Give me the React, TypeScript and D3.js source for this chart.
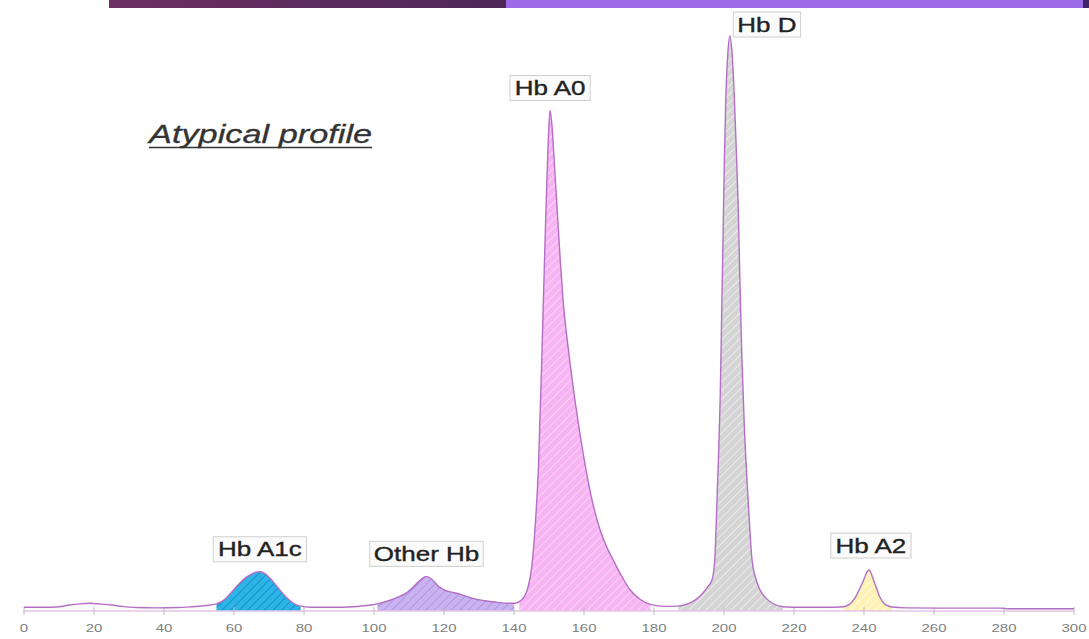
import React from "react";
import * as d3 from "d3";

// Chromatogram profile: [retention time, signal (% of tallest peak)]
const profile: [number, number][] = [
  [0, 0.3], [6, 0.3], [10, 0.4], [13, 0.7], [16, 0.9], [19, 1.0], [22, 0.85], [25, 0.7], [28, 0.45], [32, 0.25],
  [38, 0.2], [44, 0.25], [48, 0.4], [52, 0.6], [55, 0.9], [57, 1.5], [59, 2.7], [61, 4.1], [63, 5.3], [65, 6.1],
  [67.4, 6.5], [69, 6.1], [71, 4.9], [73, 3.4], [75, 2.0], [77, 1.0], [79, 0.5], [82, 0.3], [88, 0.3], [94, 0.4],
  [98, 0.6], [101, 0.9], [104, 1.4], [107, 2.1], [109.5, 2.9], [111.5, 4.0], [113.5, 5.2], [115, 5.7], [116.5, 5.2],
  [118.5, 3.9], [120.5, 3.2], [122.5, 2.9], [125, 2.5], [128, 1.9], [131, 1.5], [135, 1.2], [138, 1.0], [140, 1.0],
  [141.5, 1.3], [143, 2.2], [144, 3.8], [145, 7], [146, 14], [147, 25], [148, 45], [149, 67], [149.8, 82],
  [150.3, 87], [150.9, 84], [151.6, 77], [152.3, 70], [153.2, 61], [154, 54], [155.6, 45], [157.4, 36.5],
  [159.8, 27], [162.3, 19], [164.6, 13.8], [166.5, 10.8], [168.3, 8.6], [170.7, 5.8], [173.1, 3.4], [176, 1.7],
  [179, 0.8], [183, 0.45], [187, 0.5], [190.3, 1.05], [192.5, 1.9], [194, 2.8], [195.5, 4.0], [196.6, 5.1],
  [197.4, 9], [198, 19], [198.5, 28], [198.9, 36.5], [199.3, 50], [199.7, 64], [200.1, 78], [200.5, 88.8],
  [201.1, 97], [201.7, 100], [202.3, 97], [202.9, 90], [203.4, 82], [204, 71.4], [204.6, 56], [205.1, 44],
  [205.8, 32], [206.9, 19], [208, 8.6], [209, 5.5], [210.3, 3.3], [212, 1.9], [213.7, 1.05], [216.9, 0.4],
  [222, 0.3], [230, 0.3], [234, 0.4], [236, 0.9], [237.5, 2.0], [239.5, 4.5], [241.4, 6.8], [243, 4.6],
  [244.5, 2.1], [246, 0.8], [248, 0.35], [252, 0.2], [265, 0.15], [279, 0.15], [281, 0.05], [300, 0.05],
];

const peakNames = ["Hb A1c", "Other Hb", "Hb A0", "Hb D", "Hb A2"];
const peakStart = [55, 100, 141.5, 187, 234];
const peakEnd = [79, 140, 179, 217, 248];
const tickValues = [0, 20, 40, 60, 80, 100, 120, 140, 160, 180, 200, 220, 240, 260, 280, 300];
const chartTitle = "Atypical profile";

// styles
const peakFill = ["#2db4e6", "#c8b2f0", "#f6b4f2", "#d4d4d4", "#fff2b4"];
const peakHatch = ["#1590c8", "#b397e2", "#fbd3f8", "#ececec", "#fffbe0"];
const labelDx = [0, 0, 0, 37, 2];
const labelDy = [10, 10, 10, -1, 12];

const W = 1089;
const H = 639;
const SX = 1.3;
const FONT = "'Liberation Sans', Arial, sans-serif";

function measure(text: string, size: number, italic = false) {
  const c = document.createElement("canvas").getContext("2d");
  if (!c) return text.length * size * 0.55;
  c.font = `${italic ? "italic " : ""}${size}px ${FONT}`;
  return c.measureText(text).width;
}

export default function App() {
  const x = d3.scaleLinear().domain([0, 300]).range([24, 1074]);
  const y = d3.scaleLinear().domain([0, 100]).range([609, 36]);
  const axisY = y(0) + 2;

  const line = d3
    .line<[number, number]>()
    .x((d) => x(d[0]))
    .y((d) => y(d[1]))
    .curve(d3.curveMonotoneX);
  const area = d3
    .area<[number, number]>()
    .x((d) => x(d[0]))
    .y0(axisY)
    .y1((d) => y(d[1]))
    .curve(d3.curveMonotoneX);

  const peaks = peakNames.map((name, i) => {
    const pts = profile.filter((p) => p[0] >= peakStart[i] && p[0] <= peakEnd[i]);
    const apex = pts.reduce((a, b) => (b[1] > a[1] ? b : a), pts[0]);
    return { name, pts, apex, i };
  });

  const labelSize = 20;
  const titleW = measure(chartTitle, 26, true) * 1.32;

  return (
    <svg
      width={W}
      height={H}
      style={{ position: "absolute", left: 0, top: 0, background: "#fff" }}
      fontFamily={FONT}
    >
      <defs>
        <linearGradient id="barGrad" x1="0" x2="1" y1="0" y2="0">
          <stop offset="0" stopColor="#6e2f63" />
          <stop offset="1" stopColor="#4d2858" />
        </linearGradient>
        {peaks.map((p) => (
          <pattern
            key={p.name}
            id={`hatch${p.i}`}
            patternUnits="userSpaceOnUse"
            width={6}
            height={6}
            patternTransform="rotate(45)"
          >
            <rect width={6} height={6} fill={peakFill[p.i]} />
            <line x1={0} y1={0} x2={0} y2={6} stroke={peakHatch[p.i]} strokeWidth={2} />
          </pattern>
        ))}
      </defs>

      <rect width={W} height={H} fill="#fff" />

      {/* top decorative band */}
      <rect x={109} y={0} width={397} height={8} fill="url(#barGrad)" />
      <rect x={506} y={0} width={577} height={8} fill="#9d6bea" />
      <rect x={1083} y={0} width={6} height={8} fill="#3b2468" />

      {/* peak fills */}
      {peaks.map((p) => (
        <path key={p.name} d={area(p.pts) || ""} fill={`url(#hatch${p.i})`} />
      ))}

      {/* axis */}
      <line x1={x(0)} x2={x(300)} y1={axisY} y2={axisY} stroke="#e3c6e6" strokeWidth={1.5} />
      {tickValues.map((t) => (
        <g key={t}>
          <line x1={x(t)} x2={x(t)} y1={axisY - 4} y2={axisY + 4} stroke="#bbb" strokeWidth={1} />
          <text
            transform={`translate(${x(t)},${632}) scale(${SX},1)`}
            textAnchor="middle"
            fontSize={11.5}
            fill="#808080"
          >
            {t}
          </text>
        </g>
      ))}

      {/* profile line */}
      <path d={line(profile) || ""} fill="none" stroke="#b46ec6" strokeWidth={1.4} />

      {/* peak labels */}
      {peaks.map((p) => {
        const tw = measure(p.name, labelSize) * SX;
        const cx = x(p.apex[0]) + labelDx[p.i];
        const bottom = y(p.apex[1]) - labelDy[p.i];
        const bw = tw + 8;
        const bh = 25;
        return (
          <g key={p.name}>
            <rect
              x={cx - bw / 2}
              y={bottom - bh}
              width={bw}
              height={bh}
              fill="#fbfbfb"
              stroke="#cfcfcf"
              strokeWidth={1}
            />
            <text
              transform={`translate(${cx},${bottom - 5.5}) scale(${SX},1)`}
              textAnchor="middle"
              fontSize={labelSize}
              fill="#222"
              stroke="#222"
              strokeWidth={0.35}
            >
              {p.name}
            </text>
          </g>
        );
      })}

      {/* title */}
      <text
        transform={`translate(149,143) scale(1.32,1)`}
        fontSize={26}
        fontStyle="italic"
        fill="#333"
        stroke="#333"
        strokeWidth={0.3}
      >
        {chartTitle}
      </text>
      <line x1={149} x2={149 + titleW} y1={147.5} y2={147.5} stroke="#333" strokeWidth={1.5} />
    </svg>
  );
}
